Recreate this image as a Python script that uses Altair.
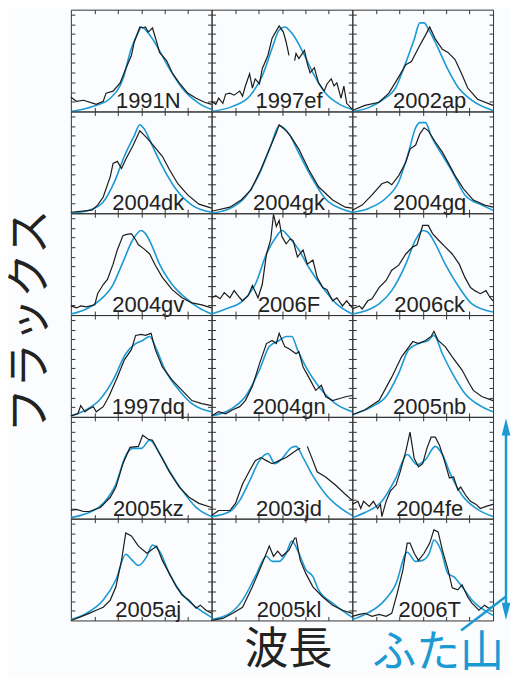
import altair as alt
import pandas as pd

NAMES = ["1991N", "1997ef", "2002ap", "2004dk", "2004gk", "2004gq",
         "2004gv", "2006F", "2006ck", "1997dq", "2004gn", "2005nb",
         "2005kz", "2003jd", "2004fe", "2005aj", "2005kl", "2006T"]

Y_TITLE = "フラックス"
X_TITLE = "波長"
NOTE = "ふた山"

# observed (black) and model (blue) spectra: (x %, y %) of panel
OBS_1991N = [(0,14),(4,10),(9,11),(16,8),(18,7),(23,10),(25,18),(30,20),(35,28),(39,42),(43,55),(45,68),(49,83),(51,82),(53,83),(55,78),(58,82),(61,68),(63,58),(68,50),(72,38),(77,28),(83,18),(89,13),(95,9),(100,7)]
MOD_1991N = [(0,0),(16,5),(28,13),(37,32),(43,62),(48,78),(50,83),(55,77),(62,62),(70,42),(79,23),(91,8),(100,2)]

OBS_1997ef_a = [(0,10),(3,7),(5,13),(8,8),(10,17),(13,18),(16,16),(20,20),(22,15),(24,25),(27,37),(29,23),(31,32),(34,27),(36,42),(40,55),(43,72),(48,84),(51,78),(53,68),(55,55)]
OBS_1997ef_b = [(59,50),(60,57),(62,52),(66,60),(68,47),(70,38),(73,43),(76,28),(80,20),(82,27),(85,32),(87,25),(89,28),(92,13),(94,25),(96,8),(100,2)]
MOD_1997ef = [(0,0),(15,5),(27,15),(36,35),(43,62),(48,80),(52,83),(57,77),(65,58),(72,38),(81,18),(91,7),(100,2)]

OBS_2002ap = [(0,1),(9,6),(19,9),(26,18),(33,34),(38,46),(42,49),(48,65),(52,75),(55,83),(59,71),(64,61),(68,58),(73,51),(78,36),(82,23),(89,12),(100,6)]
MOD_2002ap = [(0,0),(12,4),(21,11),(31,24),(38,48),(44,71),(48,87),(51,87),(54,81),(60,65),(68,41),(75,24),(85,11),(100,1)]

OBS_2004dk = [(0,1),(15,3),(19,8),(23,16),(28,36),(30,49),(33,51),(36,44),(39,53),(44,66),(49,81),(54,74),(59,66),(65,56),(70,43),(76,29),(83,18),(91,9),(100,5)]
MOD_2004dk = [(0,0),(13,3),(23,11),(31,31),(38,56),(45,76),(49,87),(52,83),(58,66),(65,46),(75,23),(86,8),(100,1)]

OBS_2004gk = [(0,2),(13,6),(21,13),(28,23),(35,43),(41,63),(46,79),(48,87),(53,81),(56,76),(62,63),(69,43),(76,26),(86,13),(95,6),(100,5)]
MOD_2004gk = [(0,0),(15,6),(24,16),(34,39),(42,66),(48,86),(55,78),(62,59),(72,33),(81,14),(93,4),(100,1)]

OBS_2004gq = [(0,3),(7,8),(14,18),(21,29),(25,31),(28,28),(33,37),(38,50),(41,63),(45,67),(48,78),(51,84),(54,81),(59,70),(64,60),(68,50),(73,37),(79,24),(86,13),(94,8),(100,6)]
MOD_2004gq = [(0,1),(12,5),(24,15),(33,31),(40,60),(45,84),(48,89),(52,89),(56,76),(64,57),(71,41),(80,18),(92,8),(100,3)]

OBS_2004gv = [(0,9),(4,7),(7,9),(11,8),(17,10),(19,21),(23,30),(26,35),(30,50),(33,64),(37,78),(39,79),(43,80),(46,74),(48,69),(52,65),(56,60),(60,49),(65,37),(72,25),(79,17),(86,12),(93,10),(100,7)]
MOD_2004gv = [(0,1),(11,6),(20,14),(30,30),(37,52),(44,74),(50,83),(53,80),(57,70),(63,50),(72,30),(84,14),(91,7),(100,1)]

OBS_2006F = [(0,17),(3,19),(6,16),(9,22),(13,17),(16,24),(20,17),(22,14),(26,19),(29,29),(33,17),(36,30),(39,60),(42,74),(44,99),(46,87),(48,93),(50,77),(53,70),(56,75),(58,73),(61,57),(65,64),(68,50),(72,54),(75,37),(79,27),(82,25),(86,14),(89,17),(93,9),(96,14),(100,7)]
MOD_2006F = [(0,1),(10,6),(22,14),(31,30),(39,60),(46,77),(50,83),(56,75),(62,64),(69,47),(79,27),(88,12),(100,1)]

OBS_2006ck = [(0,6),(5,9),(7,6),(11,14),(14,16),(19,27),(24,34),(28,44),(33,49),(38,60),(43,67),(46,69),(50,88),(54,88),(57,80),(61,74),(66,67),(71,60),(76,50),(80,37),(84,27),(87,24),(91,21),(95,24),(98,17),(100,14)]
MOD_2006ck = [(0,1),(9,4),(19,11),(28,24),(38,50),(45,74),(50,83),(53,82),(59,70),(66,50),(76,27),(85,11),(100,3)]

OBS_1997dq = [(0,1),(5,3),(7,11),(10,5),(13,8),(16,10),(18,5),(23,10),(27,20),(33,39),(38,56),(43,66),(46,80),(50,81),(53,80),(57,82),(60,66),(65,49),(72,36),(79,26),(86,16),(93,13),(100,11)]
MOD_1997dq = [(0,1),(11,7),(20,16),(30,36),(39,62),(46,72),(51,75),(56,79),(60,69),(67,46),(77,26),(86,13),(100,5)]

OBS_2004gn = [(0,1),(5,5),(10,3),(15,7),(20,10),(24,16),(29,30),(34,52),(39,72),(43,75),(46,72),(48,82),(52,69),(55,67),(60,62),(62,64),(65,49),(69,39),(74,26),(78,31),(81,20),(86,16),(91,18),(96,20),(100,21)]
MOD_2004gn = [(0,1),(13,7),(24,20),(34,46),(41,69),(48,75),(53,79),(57,79),(61,66),(67,49),(76,30),(88,13),(100,5)]

OBS_2005nb = [(0,2),(9,7),(19,16),(28,39),(35,59),(43,74),(47,72),(52,75),(56,79),(58,84),(61,75),(66,69),(71,59),(78,46),(83,33),(86,26),(92,20),(100,16)]
MOD_2005nb = [(0,2),(14,10),(24,20),(33,43),(40,66),(47,72),(54,75),(58,80),(64,62),(71,43),(80,23),(92,10),(100,5)]

OBS_2005kz = [(0,8),(4,9),(9,7),(13,7),(21,11),(28,21),(32,31),(37,54),(42,70),(48,71),(51,82),(55,78),(58,77),(63,64),(70,46),(77,31),(84,21),(91,15),(100,11)]
MOD_2005kz = [(0,1),(11,5),(23,15),(32,34),(39,62),(44,69),(50,69),(56,77),(63,64),(70,47),(79,28),(89,11),(100,2)]

OBS_2003jd_a = [(0,3),(5,8),(13,8),(17,15),(22,34),(27,47),(31,57),(35,60),(39,57),(43,54),(48,57),(53,60),(57,64),(61,68),(63,69)]
OBS_2003jd_b = [(68,71),(72,57),(75,46),(81,41),(88,33),(95,24),(100,18)]
MOD_2003jd = [(0,2),(13,7),(20,18),(27,37),(34,57),(40,64),(45,54),(50,59),(57,70),(60,71),(65,60),(72,42),(81,24),(91,11),(100,3)]

OBS_2004fe = [(0,14),(4,17),(6,10),(8,17),(12,12),(15,17),(18,10),(20,14),(21,2),(24,17),(27,27),(31,33),(34,46),(38,66),(41,85),(44,59),(47,51),(50,54),(53,69),(56,80),(59,80),(62,72),(65,59),(69,40),(72,41),(75,28),(77,31),(81,22),(84,17),(88,14),(91,10),(95,12),(100,14)]
MOD_2004fe = [(0,1),(9,6),(21,17),(31,40),(39,63),(46,53),(52,58),(59,71),(64,63),(70,43),(78,23),(88,10),(100,2)]

OBS_2005aj = [(0,0),(6,3),(13,7),(18,10),(23,13),(28,20),(32,33),(36,59),(39,86),(43,83),(48,73),(54,66),(56,68),(61,73),(65,59),(70,46),(75,33),(79,25),(84,20),(89,12),(92,15),(96,10),(100,7)]
MOD_2005aj = [(0,1),(11,7),(23,20),(32,40),(39,65),(43,60),(48,54),(54,63),(58,74),(63,68),(70,46),(79,26),(89,13),(100,3)]

OBS_2005kl = [(0,0),(8,2),(15,7),(22,13),(29,33),(36,56),(41,73),(44,63),(47,68),(50,63),(55,69),(59,81),(60,81),(63,59),(67,46),(72,33),(79,23),(86,15),(93,10),(100,7)]
MOD_2005kl = [(0,1),(13,7),(22,20),(31,43),(39,63),(43,58),(48,58),(53,66),(57,78),(62,66),(67,50),(72,43),(76,30),(86,17),(100,3)]

OBS_2006T = [(0,4),(5,6),(9,7),(14,4),(19,6),(24,4),(28,7),(32,27),(36,50),(39,76),(41,76),(44,66),(47,59),(51,66),(55,76),(58,89),(61,87),(64,69),(68,50),(71,32),(75,30),(78,35),(82,23),(85,17),(90,10),(94,15),(97,12),(100,14)]
MOD_2006T = [(0,1),(9,6),(21,17),(31,36),(39,67),(45,58),(50,59),(55,67),(58,79),(63,69),(68,46),(72,43),(78,33),(85,20),(100,5)]

OBS = {
    "1991N": [OBS_1991N], "1997ef": [OBS_1997ef_a, OBS_1997ef_b], "2002ap": [OBS_2002ap],
    "2004dk": [OBS_2004dk], "2004gk": [OBS_2004gk], "2004gq": [OBS_2004gq],
    "2004gv": [OBS_2004gv], "2006F": [OBS_2006F], "2006ck": [OBS_2006ck],
    "1997dq": [OBS_1997dq], "2004gn": [OBS_2004gn], "2005nb": [OBS_2005nb],
    "2005kz": [OBS_2005kz], "2003jd": [OBS_2003jd_a, OBS_2003jd_b], "2004fe": [OBS_2004fe],
    "2005aj": [OBS_2005aj], "2005kl": [OBS_2005kl], "2006T": [OBS_2006T],
}
MOD = {
    "1991N": MOD_1991N, "1997ef": MOD_1997ef, "2002ap": MOD_2002ap,
    "2004dk": MOD_2004dk, "2004gk": MOD_2004gk, "2004gq": MOD_2004gq,
    "2004gv": MOD_2004gv, "2006F": MOD_2006F, "2006ck": MOD_2006ck,
    "1997dq": MOD_1997dq, "2004gn": MOD_2004gn, "2005nb": MOD_2005nb,
    "2005kz": MOD_2005kz, "2003jd": MOD_2003jd, "2004fe": MOD_2004fe,
    "2005aj": MOD_2005aj, "2005kl": MOD_2005kl, "2006T": MOD_2006T,
}

X_TICKS = [100 * i / 6 for i in range(1, 6)]
Y_TICKS = [100 * i / 10.5 for i in range(1, 11)]

BLUE = "#1b9ad4"
BLACK = "#1c1c1c"
JP = "Noto Sans CJK JP"
PW, PH = 141, 102

xs = alt.Scale(domain=[0, 100], nice=False, zero=False)
ys = alt.Scale(domain=[0, 100], nice=False, zero=False)
one = pd.DataFrame({"a": [0]})


def ax(orient, vals):
    return alt.Axis(orient=orient, values=vals, labels=False, domain=False, grid=False,
                    title=None, tickSize=4, offset=-4, tickColor="#333", tickWidth=1)


def jp_text(txt, size, color, px, py, angle=0, align="center"):
    return alt.Chart(pd.DataFrame({"t": [txt]})).mark_text(
        font=JP, fontSize=size, color=color, angle=angle, align=align, baseline="middle"
    ).encode(text="t:N", x=alt.value(px), y=alt.value(py))


def extras(name):
    # annotations placed relative to a panel (pixels), outside the data area
    if name == "1997dq":
        return [jp_text(Y_TITLE, 45, "#222", -40, 6, angle=270)]
    if name == "2005kl":
        return [jp_text(X_TITLE, 44, "#222", 77, 133)]
    if name == "2006T":
        vline = alt.Chart(one).mark_rule(color=BLUE, strokeWidth=2.5).encode(
            x=alt.value(154), y=alt.value(-88), y2=alt.value(90))
        diag = alt.Chart(one).mark_rule(color=BLUE, strokeWidth=2.5).encode(
            x=alt.value(109), y=alt.value(112), x2=alt.value(154), y2=alt.value(78))
        head_up = alt.Chart(one).mark_point(
            shape="M0,-1L0.5,1L-0.5,1Z", filled=True, opacity=1, color=BLUE, size=300, strokeWidth=0
        ).encode(x=alt.value(154), y=alt.value(-92))
        head_dn = alt.Chart(one).mark_point(
            shape="M0,1L0.5,-1L-0.5,-1Z", filled=True, opacity=1, color=BLUE, size=300, strokeWidth=0
        ).encode(x=alt.value(154), y=alt.value(93))
        note = jp_text(NOTE, 44, BLUE, 20, 136, align="left")
        return [note, vline, diag, head_up, head_dn]
    return []


def panel(name):
    rows = []
    for si, seg in enumerate(OBS[name]):
        for x, y in seg:
            rows.append({"x": x, "y": y, "seg": si})
    obs_df = pd.DataFrame(rows)
    mod_df = pd.DataFrame(MOD[name], columns=["x", "y"])
    mod = alt.Chart(mod_df).mark_line(color=BLUE, strokeWidth=1.6, interpolate="monotone").encode(
        x=alt.X("x:Q", scale=xs, axis=ax("bottom", X_TICKS)),
        y=alt.Y("y:Q", scale=ys, axis=ax("left", Y_TICKS)),
    )
    obs = alt.Chart(obs_df).mark_line(color=BLACK, strokeWidth=1.2).encode(
        x=alt.X("x:Q", scale=xs, axis=ax("top", X_TICKS)),
        y=alt.Y("y:Q", scale=ys, axis=ax("right", Y_TICKS)),
        detail="seg:N",
    )
    lab = alt.Chart(pd.DataFrame({"x": [55], "y": [3], "t": [name]})).mark_text(
        font="Liberation Sans", fontSize=22, color="#222", align="center", baseline="alphabetic"
    ).encode(
        x=alt.X("x:Q", scale=xs, axis=None),
        y=alt.Y("y:Q", scale=ys, axis=None),
        text="t:N",
    )
    return alt.layer(mod, obs, lab, *extras(name)).properties(width=PW, height=PH)


chart = alt.concat(*[panel(n) for n in NAMES], columns=3, spacing=0, bounds="flush").properties(
    padding=0, background="#fbfcfe"
).configure_view(stroke="#333", strokeWidth=1)

chart.save("out.html", embed_options={"renderer": "svg", "actions": False})
